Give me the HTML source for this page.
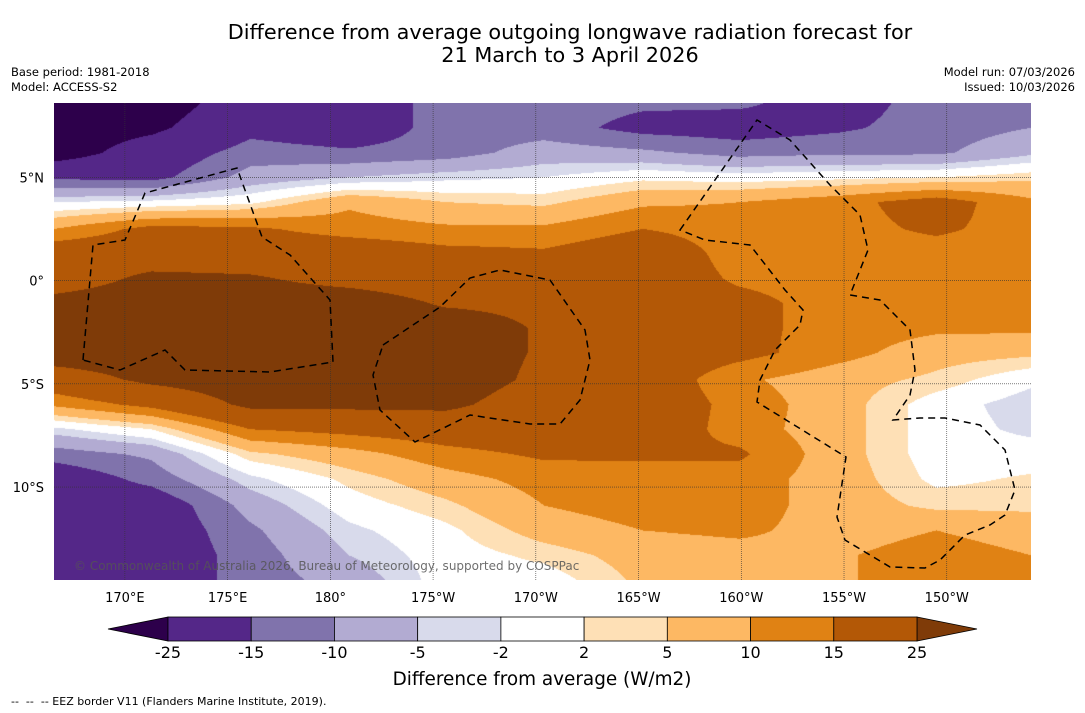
<!DOCTYPE html>
<html><head><meta charset="utf-8">
<style>
body{margin:0;width:1085px;height:713px;background:#fff;font-family:"DejaVu Sans","Liberation Sans",sans-serif;position:relative;overflow:hidden}
.t{position:absolute;white-space:nowrap;color:#000}
</style></head><body>
<div class="t" style="left:0;width:1140px;top:21px;text-align:center;font-size:20.8px;line-height:23px">Difference from average outgoing longwave radiation forecast for<br>21 March to 3 April 2026</div>
<div class="t" style="left:11px;top:65px;font-size:11.5px;line-height:15px">Base period: 1981-2018<br>Model: ACCESS-S2</div>
<div class="t" style="right:10px;top:65px;font-size:11.5px;line-height:15px;text-align:right">Model run: 07/03/2026<br>Issued: 10/03/2026</div>
<canvas id="map" width="977" height="477" style="position:absolute;left:54px;top:103px"></canvas>
<svg id="ov" width="1085" height="713" style="position:absolute;left:0;top:0"></svg>
<div class="t" style="left:11px;top:695px;font-size:11px">-- &nbsp;-- &nbsp;-- EEZ border V11 (Flanders Marine Institute, 2019).</div>
<script>
const lonCols=[166.55,171.3,176.1,180.9,185.6,190.4,195.2,199.9,204.7,209.5,214.1];
const latRows=[8.6,7.4,6.2,5.0,3.8,2.5,1.3,0.1,-1.1,-2.3,-3.5,-4.8,-6.0,-7.2,-8.4,-9.6,-10.9,-12.1,-13.3,-14.5];
const grid=[
[-30,-30,-20,-20,-12.5,-12.5,-14,-14,-18,-12.5,-12],
[-30,-27,-17,-20,-12.5,-12.5,-17,-18,-16,-12.5,-10],
[-30,-20,-12.5,-14,-12.5,-7.5,-9,-12,-11,-11,-6],
[-16,-17,-8,-5,-3,-2,1,0,1,2,4],
[-2,-1,1,9,5,4,9,10,13,18,11],
[10,17,16,12.5,11,11,15,12.5,13,16,12.5],
[20,20,20,20,17,16,20,12.5,12.5,12.5,12.5],
[20,27,26,22,20,20,20,14,12.5,12.5,12.5],
[28,30,30,30,24,23,20,17,12.5,12.5,12.5],
[30,30,30,30,30,24,20,17,12.5,11,11],
[30,30,30,30,30,24,20,17,12,7,6],
[20,27,30,30,30,23,20,11,7,4,-1],
[11,17,27,27,27,20,20,13,7,0,-4],
[-3,2,15,17,19,20,20,12.5,7,0,-3],
[-12.5,-9,4,8,13,16,16,16,7,0,0],
[-20,-13,-3,3,8,12,12.5,12.5,7.5,1,2.5],
[-20,-20,-8,0,4,10,12.5,12.5,7.5,4,4],
[-20,-20,-11,-3,1,7,10,11,8,10,8],
[-20,-20,-12.5,-5,0,3,7,8,9.5,12,10],
[-20,-20,-12.5,-8,0,0,6,7,9.5,12,11]];
const levels=[-25,-15,-10,-5,-2,2,5,10,15,25];
const colors=['#2d004b','#542788','#8073ac','#b2abd2','#d8daeb','#ffffff','#fee0b6','#fdb863','#e08214','#b35806','#7f3b08'];
const lonTicks=['170°E','175°E','180°','175°W','170°W','165°W','160°W','155°W','150°W'];
const lonTickVals=[170,175,180,185,190,195,200,205,210];
const latTicks=['5°N','0°','5°S','10°S'];
const latTickVals=[5,0,-5,-10];
const X0=54,Y0=103,W=977,H=477;
const lonMin=166.55,lonMax=214.1,latMax=8.6,latMin=-14.5;
const xOf=l=>X0+(l-lonMin)/(lonMax-lonMin)*W;
const yOf=l=>Y0+(latMax-l)/(latMax-latMin)*H;
function interp(arr,v){
  const asc=arr[1]>arr[0];
  for(let i=0;i<arr.length-1;i++){const a=arr[i],b=arr[i+1];
    if(asc?(v>=a&&v<=b):(v<=a&&v>=b))return i+(v-a)/(b-a);}
  return asc?(v<arr[0]?0:arr.length-1):(v>arr[0]?0:arr.length-1);
}
function val(lon,lat){
  let fx=interp(lonCols,lon),fy=interp(latRows,lat);
  let i=Math.min(Math.floor(fx),lonCols.length-2),j=Math.min(Math.floor(fy),latRows.length-2);
  let tx=fx-i,ty=fy-j;
  const g=grid;
  return (g[j][i]*(1-tx)+g[j][i+1]*tx)*(1-ty)+(g[j+1][i]*(1-tx)+g[j+1][i+1]*tx)*ty;
}
const cv=document.getElementById('map'),ctx=cv.getContext('2d');
const img=ctx.createImageData(W,H);
const rgb=colors.map(c=>[parseInt(c.substr(1,2),16),parseInt(c.substr(3,2),16),parseInt(c.substr(5,2),16)]);
for(let py=0;py<H;py++){const lat=latMax-(py+0.5)/H*(latMax-latMin);
  for(let px=0;px<W;px++){const lon=lonMin+(px+0.5)/W*(lonMax-lonMin);
    const v=val(lon,lat);let k=0;while(k<levels.length&&v>=levels[k])k++;
    const o=(py*W+px)*4;img.data[o]=rgb[k][0];img.data[o+1]=rgb[k][1];img.data[o+2]=rgb[k][2];img.data[o+3]=255;}}
ctx.putImageData(img,0,0);
const NS='http://www.w3.org/2000/svg',ov=document.getElementById('ov');
function mk(tag,attrs,parent){const e=document.createElementNS(NS,tag);for(const k in attrs)e.setAttribute(k,attrs[k]);(parent||ov).appendChild(e);return e;}
const FF='DejaVu Sans, Liberation Sans, sans-serif';
lonTickVals.forEach((l,i)=>{
  const x=xOf(l);
  const g=mk('line',{x1:x,y1:Y0,x2:x,y2:Y0+H,stroke:'#333','stroke-width':0.6,'stroke-dasharray':'1,1'});
  
  
  const t=mk('text',{x:x,y:602,'text-anchor':'middle','font-size':13,'font-family':FF});
  t.textContent=lonTicks[i];
  
  
});
latTickVals.forEach((l,i)=>{
  const y=yOf(l);
  const g=mk('line',{x1:X0,y1:y,x2:X0+W,y2:y,stroke:'#333','stroke-width':0.6,'stroke-dasharray':'1,1'});
  
  
  const t=mk('text',{x:44,y:y+5,'text-anchor':'end','font-size':13,'font-family':FF});
  t.textContent=latTicks[i];
  
  
});
const eez=[
"M83,360 L93,245 L125,240 L145,193 L237,168 L262,237 L290,255 L330,300 L333,362 L270,372 L185,370 L165,350 L120,370 Z",
"M383,345 L440,307 L470,278 L500,270 L550,280 L585,330 L590,360 L580,400 L560,424 L530,424 L470,415 L415,442 L380,410 L373,375 Z",
"M680,230 L757,120 L790,140 L830,185 L860,215 L868,250 L850,295 L880,300 L910,330 L915,370 L910,395 L893,420 L920,418 L945,418 L980,425 L1005,450 L1015,490 L1005,515 L990,525 L965,535 L940,560 L925,568 L890,567 L845,540 L837,517 L846,457 L757,402 L760,380 L775,350 L800,325 L803,310 L785,290 L750,245 L705,240 Z"];
eez.forEach(d=>{const p=mk('path',{d:d,fill:'none',stroke:'#000','stroke-width':1.5,'stroke-dasharray':'7,5'});
  
  });
const cp=mk('text',{x:74,y:570,'font-size':12,fill:'#555','fill-opacity':0.85,'font-family':FF});
cp.textContent='© Commonwealth of Australia 2026, Bureau of Meteorology, supported by COSPPac';


const cbX0=168,cbX1=917,cbY=617,cbH=24,bw=(cbX1-cbX0)/(levels.length-1);
const tl=mk('polygon',{points:`${cbX0},${cbY} ${108},${cbY+cbH/2} ${cbX0},${cbY+cbH}`,fill:colors[0],stroke:'#000','stroke-width':0.8});


const tr=mk('polygon',{points:`${cbX1},${cbY} ${977},${cbY+cbH/2} ${cbX1},${cbY+cbH}`,fill:colors[colors.length-1],stroke:'#000','stroke-width':0.8});


for(let i=0;i<levels.length-1;i++){
  const r=mk('rect',{x:cbX0+i*bw,y:cbY,width:bw,height:cbH,fill:colors[i+1],stroke:'#000','stroke-width':0.8});
  
  
}
levels.forEach((l,i)=>{
  const t=mk('text',{x:cbX0+i*bw,y:658,'text-anchor':'middle','font-size':16,'font-family':FF});
  t.textContent=String(l);
  
  
});
const ct=mk('text',{x:542,y:685,'text-anchor':'middle','font-size':18.4,'font-family':FF});
ct.textContent='Difference from average (W/m2)';


</script>
</body></html>
